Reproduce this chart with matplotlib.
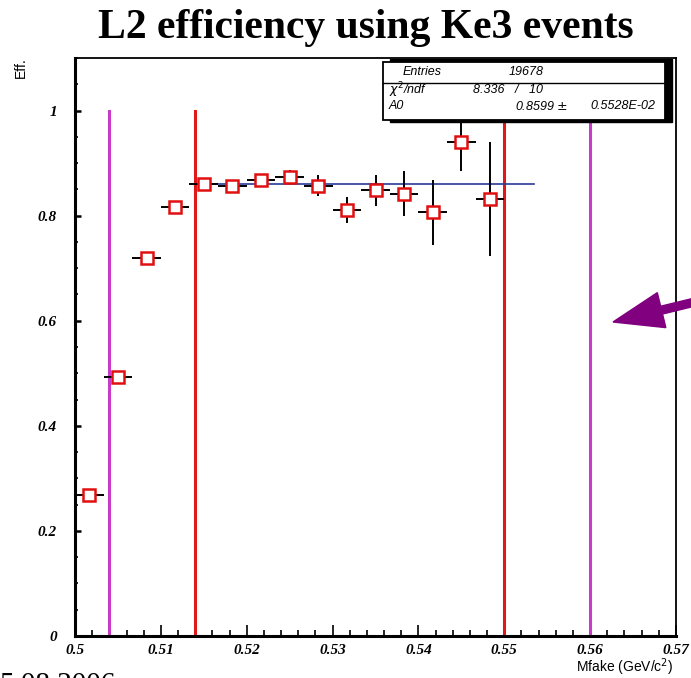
import numpy as np
import matplotlib
matplotlib.use("Agg")
import matplotlib.pyplot as plt
from matplotlib.patches import Rectangle, FancyArrow
from matplotlib.transforms import IdentityTransform
from matplotlib.ticker import MultipleLocator

# bin centres (bin width 1/300 GeV) and efficiencies
mass = 0.5 + (np.arange(15) + 0.5) / 300.0
eff = [0.269, 0.493, 0.720, 0.817, 0.861, 0.857, 0.867, 0.874,
       0.857, 0.811, 0.848, 0.842, 0.806, 0.941, 0.832]
eff_err = [0.005, 0.006, 0.005, 0.006, 0.006, 0.006, 0.013, 0.013,
           0.020, 0.025, 0.030, 0.042, 0.062, 0.057, 0.109]
mass_err = [1 / 600.0] * 15

fit_a0 = 0.8599
fit_range = (0.514, 0.5535)
red_cuts = [0.514, 0.55]
magenta_cuts = [0.504, 0.56]

W, H = 691, 678
fig = plt.figure(figsize=(W / 100, H / 100), dpi=100)
ax = fig.add_axes([75 / W, 1 - 636 / H, 601 / W, 578 / H])

serif = "Liberation Serif"
sans = "Liberation Sans"

for x in magenta_cuts:
    ax.plot([x, x], [0, 1.0], color="#c83cc8", lw=2.2, zorder=2)
for x in red_cuts:
    ax.plot([x, x], [0, 1.0], color="#e01818", lw=2.2, zorder=2)

ax.plot(fit_range, [fit_a0, fit_a0], color="#2a3a9a", lw=1.2, zorder=3)

ax.errorbar(mass, eff, xerr=mass_err, yerr=eff_err, fmt="s", ms=9,
            mfc="white", mec="#e01010", mew=1.8, ecolor="black",
            elinewidth=1.4, capsize=0, zorder=4)

ax.set_xlim(0.5, 0.57)
ax.set_ylim(0, 1.1)
ax.xaxis.set_minor_locator(MultipleLocator(0.002))
ax.yaxis.set_minor_locator(MultipleLocator(0.05))
ax.set_xticks(np.arange(0.5, 0.5701, 0.01))
ax.set_xticklabels(["0.5", "0.51", "0.52", "0.53", "0.54", "0.55", "0.56", "0.57"])
ax.set_yticks(np.arange(0, 1.01, 0.2))
ax.set_yticklabels(["0", "0.2", "0.4", "0.6", "0.8", "1"])
ax.tick_params(axis="x", which="major", direction="in", length=8, width=1.2, pad=6)
ax.tick_params(axis="x", which="minor", direction="in", length=4.5, width=1.2)
ax.tick_params(axis="y", which="major", direction="in", length=4, width=1.8, pad=13)
ax.tick_params(axis="y", which="minor", direction="in", length=2.5, width=1.2)
for lab in ax.get_xticklabels() + ax.get_yticklabels():
    lab.set_fontfamily(serif)
    lab.set_fontstyle("italic")
    lab.set_fontweight("bold")
    lab.set_fontsize(11)
for s in ["left", "bottom"]:
    ax.spines[s].set_linewidth(2.2)
for s in ["top", "right"]:
    ax.spines[s].set_linewidth(1.3)


def fx(x):
    return x / W


def fy(y):
    return 1 - y / H


fig.text(fx(366), fy(28), "L2 efficiency using Ke3 events", family=serif,
         fontweight="bold", fontsize=30, ha="center", va="center")
fig.text(fx(21), fy(68), "Eff.", family=sans, fontsize=10, rotation=90,
         ha="center", va="center")
fig.text(fx(673), fy(667), "Mfake (GeV/c$^2$)", family=sans, fontsize=10,
         ha="right", va="center")
# date footer, running off the bottom edge
fig.text(fx(-1), -0.021, "5.08.2006", family=serif, fontsize=21,
         ha="left", va="baseline")

# stats box with shadow
fig.add_artist(Rectangle((fx(390), fy(122)), fx(282), 63 / H,
                         transform=fig.transFigure, color="black", zorder=5))
fig.add_artist(Rectangle((fx(383), fy(120)), fx(282), 58 / H,
                         transform=fig.transFigure, fc="white", ec="black",
                         lw=1.3, zorder=6))
fig.add_artist(plt.Line2D([fx(383), fx(665)], [fy(83), fy(83)],
                          transform=fig.transFigure, color="black", lw=1.0,
                          zorder=7))
stat_kw = dict(family=sans, fontsize=9, style="italic", va="center", zorder=8)
fig.text(fx(403), fy(72), "Entries", **stat_kw)
fig.text(fx(509), fy(72), "19678", **stat_kw)
fig.text(fx(389), fy(90), "$\\chi^2$/ndf", **stat_kw)
fig.text(fx(473), fy(90), "8.336   /   10", **stat_kw)
fig.text(fx(389), fy(106), "A0", **stat_kw)
fig.text(fx(515), fy(106), "0.8599 $\\pm$", **stat_kw)
fig.text(fx(590), fy(106), "0.5528E-02", **stat_kw)

# arrow pointing at the upper cut
fig.add_artist(FancyArrow(740, H - 291, 613 - 740, 291 - 322, width=8,
                          head_width=36, head_length=50,
                          length_includes_head=True, color="#800080",
                          transform=IdentityTransform(), zorder=9))

fig.savefig("out.png", dpi=100)
